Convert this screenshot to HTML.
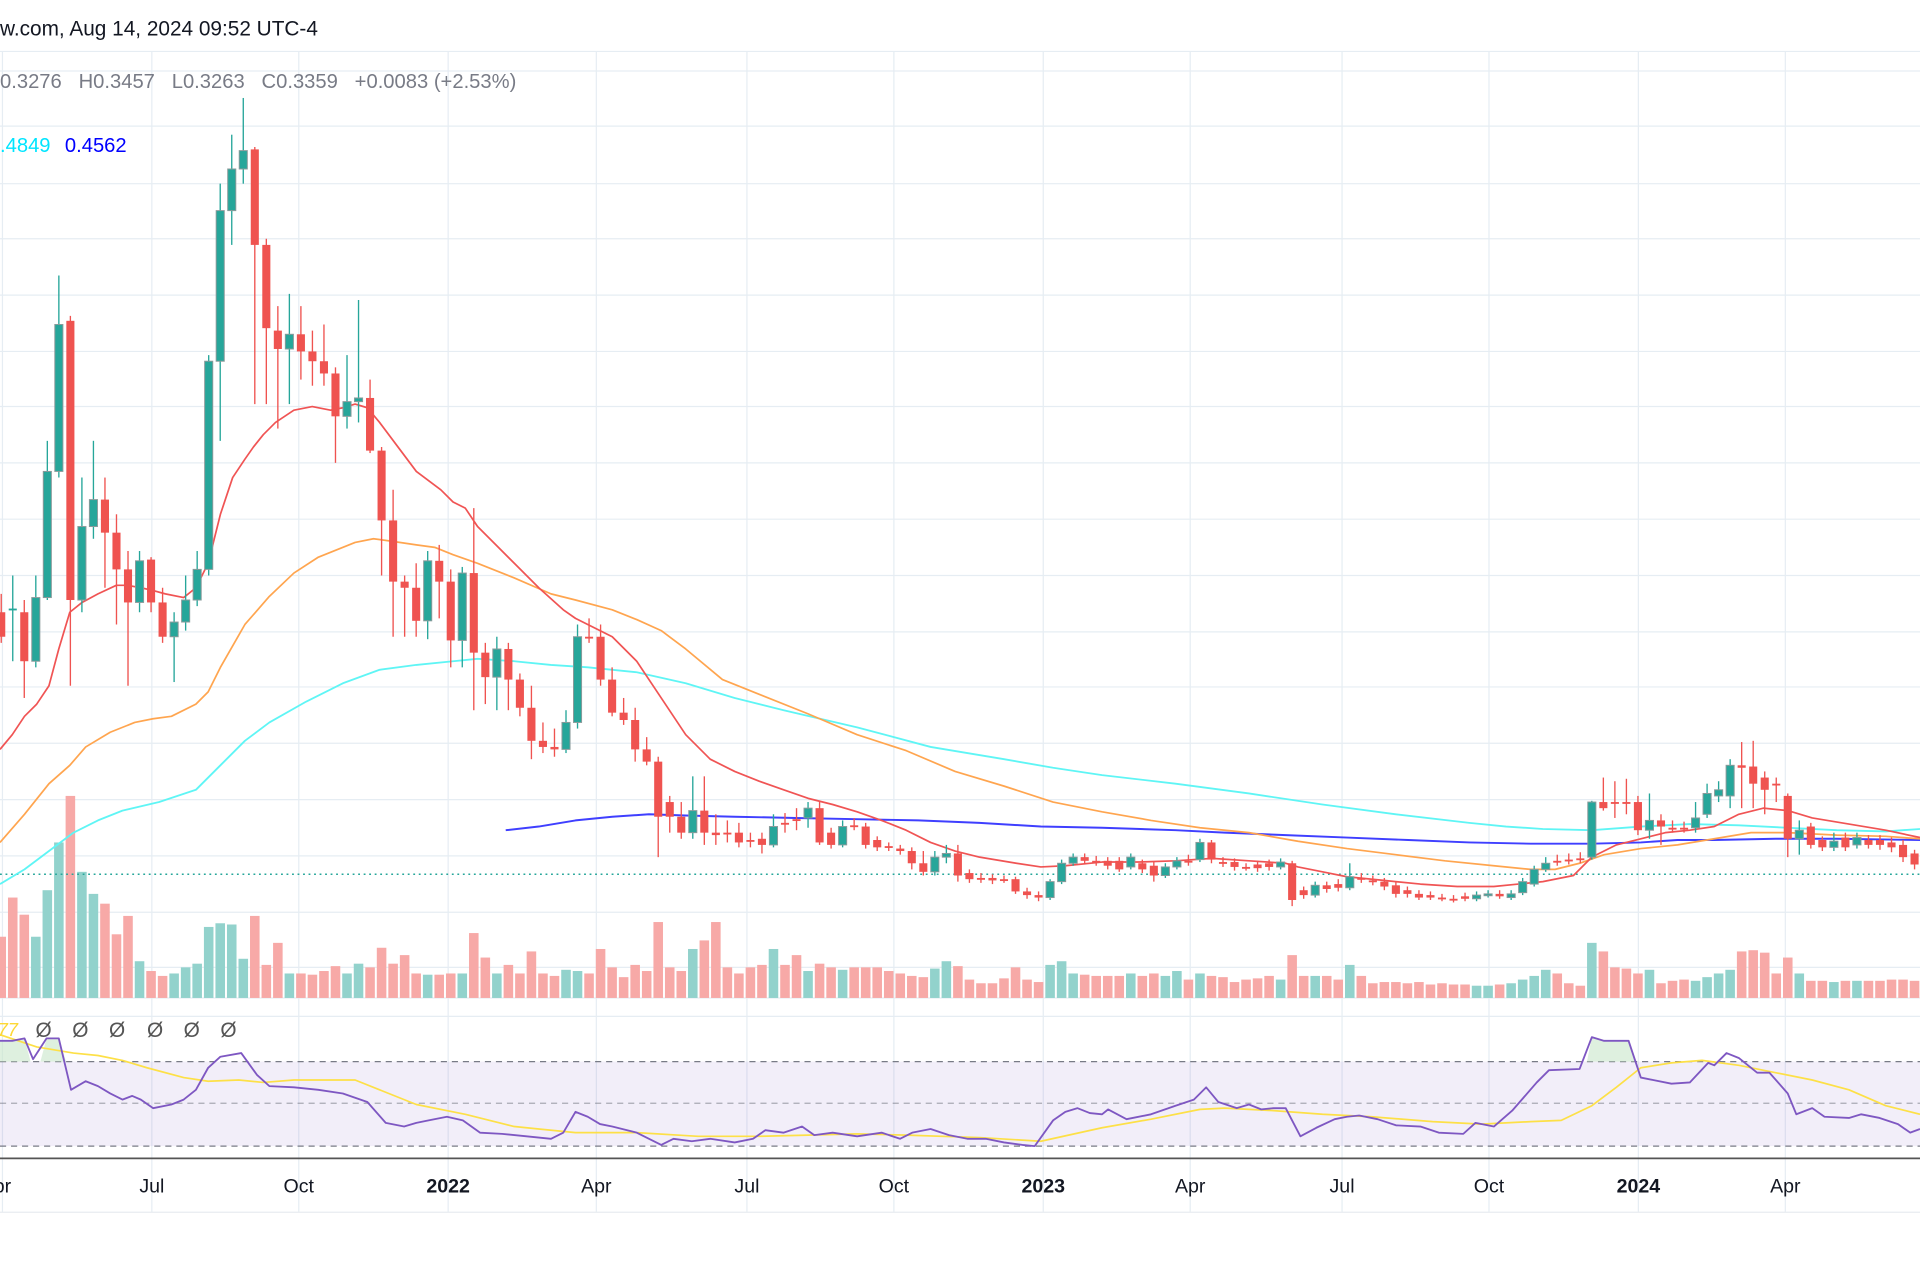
<!DOCTYPE html>
<html><head><meta charset="utf-8"><style>
html,body{margin:0;padding:0;background:#fff;width:1920px;height:1280px;overflow:hidden}
svg{display:block}
text{font-family:"Liberation Sans",sans-serif}
</style></head><body>
<svg id="s" width="1920" height="1280" viewBox="0 0 1568 1045.33" xmlns="http://www.w3.org/2000/svg">
<rect width="1568" height="1046" fill="#fff"/>
<g id="grid"></g>
<rect x="0" y="867" width="1568" height="69" fill="#7e57c2" fill-opacity="0.1"/>
<line x1="0" y1="867" x2="1568" y2="867" stroke="#787b86" stroke-dasharray="5,4" stroke-width="1"/>
<line x1="0" y1="901" x2="1568" y2="901" stroke="#787b86" stroke-opacity="0.6" stroke-dasharray="5,4" stroke-width="1"/>
<line x1="0" y1="936" x2="1568" y2="936" stroke="#787b86" stroke-dasharray="5,4" stroke-width="1"/>
<g id="vol"></g>
<line x1="0" y1="714" x2="1568" y2="714" stroke="#26a69a" stroke-dasharray="1.5,3" stroke-width="1.2"/>
<g id="ma"></g>
<g id="cdl"></g>
<g id="rsi"></g>
<line x1="0" y1="946" x2="1568" y2="946" stroke="#555" stroke-width="1.5"/>
<line x1="0" y1="990" x2="1568" y2="990" stroke="#e8ecf0" stroke-width="1"/>
<text x="0" y="29" font-size="17" fill="#131722">w.com, Aug 14, 2024 09:52 UTC-4</text>
<text x="0" y="72" font-size="16.5" fill="#787b86">0.3276 &#160;&#160;<tspan>H0.3457</tspan> &#160;&#160;L0.3263 &#160;&#160;C0.3359 &#160;&#160;+0.0083 (+2.53%)</text>
<text x="0" y="124" font-size="16.5" fill="#00e5ff">.4849</text>
<text x="53" y="124" font-size="16.5" fill="#0000ff">0.4562</text>
<text x="-2" y="846" font-size="15" fill="#fdd835" font-style="italic">77</text>
<g font-size="17" fill="#555">
<text x="29" y="847">Ø</text><text x="59" y="847">Ø</text><text x="89" y="847">Ø</text><text x="120" y="847">Ø</text><text x="150" y="847">Ø</text><text x="180" y="847">Ø</text>
</g>
<g font-size="16" fill="#131722" text-anchor="middle">
<text x="2" y="974">pr</text><text x="124" y="974">Jul</text><text x="244" y="974">Oct</text><text x="366" y="974" font-weight="bold">2022</text>
<text x="487" y="974">Apr</text><text x="610" y="974">Jul</text><text x="730" y="974">Oct</text><text x="852" y="974" font-weight="bold">2023</text>
<text x="972" y="974">Apr</text><text x="1096" y="974">Jul</text><text x="1216" y="974">Oct</text><text x="1338" y="974" font-weight="bold">2024</text><text x="1458" y="974">Apr</text>
</g>
</svg>
<script>
const NS="http://www.w3.org/2000/svg";
function el(p,t,a){const e=document.createElementNS(NS,t);for(const k in a)e.setAttribute(k,a[k]);document.getElementById(p).appendChild(e);return e;}
[42,58,103,150,195,241,287,332,378,424,470,516,561,607,653,699,745,790,815,830].forEach(y=>el("grid","line",{x1:0,x2:1568,y1:y,y2:y,stroke:"#e6edf3","stroke-width":1}));
[2,124,244,366,487,610,730,852,972,1096,1216,1338,1458].forEach(x=>el("grid","line",{x1:x,x2:x,y1:42,y2:990,stroke:"#e6edf3","stroke-width":1}));
const C=[[500,520,485,525],[497,497,470,540],[500,540,490,570],[540,488,470,545],[488,385,360,490],[385,265,225,390],[262,490,258,560],[490,430,390,500],[430,408,360,440],[408,435,390,480],[435,465,420,510],[465,492,450,560],[492,458,450,500],[457,492,455,500],[492,520,480,525],[520,508,500,557],[508,490,470,515],[490,465,450,495],[465,295,290,470],[295,172,150,360],[172,138,110,200],[138,123,80,150],[122,200,120,330],[200,268,195,330],[270,285,250,350],[285,273,240,330],[273,287,250,310],[287,295,270,315],[295,305,265,315],[305,340,300,378],[340,328,290,350],[328,325,245,345],[325,368,310,370],[368,425,365,470],[425,475,400,520],[475,480,470,520],[480,507,460,520],[507,458,450,522],[458,475,445,505],[475,523,465,545],[523,468,463,545],[468,533,415,580],[533,553,525,575],[553,530,520,580],[530,555,525,580],[555,578,550,585],[578,605,560,620],[605,610,590,615],[610,612,595,618],[612,590,580,615],[590,520,510,595],[520,521,505,525],[520,555,510,560],[555,582,545,585],[582,588,570,592],[588,612,578,622],[612,622,602,625],[622,667,618,700],[655,667,650,680],[667,680,655,685],[680,662,634,685],[662,680,634,690],[680,682,665,690],[680,681,670,688],[680,688,672,692],[686,687,680,692],[685,690,680,697],[690,675,665,692],[672,673,664,680],[669,670,660,678],[668,660,655,676],[660,688,655,690],[680,690,676,693],[690,675,670,692],[674,675,668,678],[675,690,672,693],[686,692,683,695],[691,692,688,695],[693,695,690,698],[695,705,692,710],[705,712,695,715],[712,700,695,715],[700,697,690,705],[697,715,690,720],[713,718,710,721],[717,718,713,721],[717,719,714,722],[718,719,715,721],[718,728,716,730],[728,731,725,734],[731,733,728,736],[733,720,718,735],[720,705,702,722],[705,700,697,707],[700,703,697,706],[703,704,699,707],[703,707,700,710],[703,710,700,712],[708,700,697,710],[705,710,702,713],[707,715,704,720],[715,708,705,717],[708,703,700,710],[703,704,698,707],[702,688,685,704],[688,702,686,705],[704,705,700,708],[704,708,701,711],[708,709,705,711],[706,709,703,712],[705,708,702,711],[708,704,701,710],[705,735,703,740],[727,731,724,734],[731,723,720,733],[723,726,720,729],[722,725,718,728],[725,716,705,727],[717,718,713,721],[719,720,715,723],[720,724,717,727],[723,730,720,733],[727,730,724,733],[730,733,727,735],[731,733,728,735],[733,734,730,736],[734,735,731,737],[732,734,729,736],[734,731,728,736],[731,730,727,733],[730,732,727,734],[733,730,727,735],[729,720,717,731],[722,710,707,724],[710,705,700,712],[703,704,698,707],[702,703,697,706],[701,702,696,705],[700,655,654,702],[655,660,635,662],[655,656,638,668],[655,656,636,665],[655,678,650,682],[678,670,648,685],[670,675,665,690],[676,677,670,680],[676,677,671,680],[676,668,655,680],[665,648,640,668],[650,645,638,655],[650,625,620,660],[625,627,606,660],[626,640,605,660],[635,645,630,665],[640,641,635,655],[650,685,648,700],[685,678,670,698],[675,690,672,693],[686,692,683,695],[692,687,680,695],[684,692,680,695],[690,684,680,693],[686,690,682,693],[686,690,682,694],[688,692,684,696],[690,700,686,704],[697,706,694,710]];
const V=[765,733,747,765,727,688,650,712,730,738,763,748,785,793,797,795,790,787,757,754,755,783,748,788,770,795,795,796,793,789,795,787,790,774,787,780,795,796,796,795,795,762,782,795,788,795,777,795,797,792,793,795,775,790,798,788,793,753,790,793,775,768,753,790,795,790,788,775,788,780,793,787,790,792,790,790,790,793,795,797,798,791,785,789,800,803,803,799,790,800,802,788,785,795,796,797,797,797,795,797,795,797,793,800,795,797,798,802,800,799,797,800,780,797,797,797,800,788,797,803,802,802,803,802,804,803,804,804,805,805,804,803,800,797,792,795,803,805,770,777,790,791,795,792,803,801,800,801,798,795,792,777,776,778,795,782,795,801,801,802,801,801,801,801,800,800,801];
const sp=9.413,w=6.6;
C.forEach((c,i)=>{const x=1+i*sp;let [o,cl,h,l]=c;const col=cl<o?"#26a69a":(cl>o?"#ef5350":"#26a69a");
 el("cdl","line",{x1:x,x2:x,y1:h,y2:l,stroke:col,"stroke-width":1.1});
 const t=Math.min(o,cl),b=Math.max(o,cl);
 el("cdl","rect",{x:x-w/2,y:t,width:w,height:Math.max(b-t,1.5),fill:col,stroke:cl<o?"#8a9a9a":"none","stroke-width":cl<o?0.8:0});
 const v=V[i]||800;el("vol","rect",{x:x-3.9,y:v,width:7.8,height:815-v,fill:cl<o?"#92d2cc":"#f7a9a7"});
});
function pl(p,pts,col,wd){el(p,"polyline",{points:pts.map(a=>a.join(",")).join(" "),fill:"none",stroke:col,"stroke-width":wd,"stroke-linejoin":"round"});}
pl("ma",[[413,678],[440,675],[470,670],[500,667],[530,665],[560,666],[600,667],[650,668],[700,669],[750,670],[800,672],[850,675],[900,676],[960,678],[1000,680],[1050,682],[1100,684],[1150,686],[1200,688],[1250,689],[1300,689],[1340,688],[1370,686],[1400,686],[1450,685],[1500,685],[1568,686]],"#3f3fff",1.6);
pl("ma",[[0,722],[20,710],[40,695],[60,680],[80,670],[100,662],[130,655],[160,645],[180,625],[200,605],[220,590],[250,573],[280,558],[310,547],[340,543],[370,540],[390,538],[420,540],[450,543],[480,545],[520,549],[560,558],[600,570],[640,580],[700,594],[760,610],[820,620],[860,627],[900,633],[960,640],[1020,648],[1080,657],[1140,665],[1200,672],[1230,675],[1260,677],[1300,678],[1340,675],[1380,673],[1420,674],[1460,676],[1500,678],[1540,679],[1568,677]],"#5ff5f5",1.5);
pl("ma",[[0,688],[20,665],[40,640],[57,625],[70,610],[90,598],[110,590],[125,587],[140,585],[160,575],[170,565],[180,545],[200,510],[220,487],[240,468],[260,455],[290,443],[305,440],[320,442],[340,445],[355,447],[370,453],[390,460],[420,472],[450,485],[470,490],[500,498],[520,506],[540,515],[560,530],[590,555],[620,567],[660,583],[700,600],[740,613],[780,630],[820,642],[860,655],[900,663],[940,670],[980,676],[1020,680],[1060,687],[1100,693],[1140,698],[1180,703],[1220,707],[1250,710],[1270,710],[1290,705],[1310,698],[1340,693],[1370,690],[1400,685],[1430,680],[1460,680],[1500,682],[1540,683],[1568,685]],"#ffa54f",1.4);
pl("ma",[[0,612],[10,600],[20,585],[30,575],[40,560],[48,530],[57,500],[67,492],[80,485],[95,478],[104,478],[115,480],[124,482],[135,485],[150,488],[160,480],[170,460],[180,420],[190,390],[200,375],[207,365],[215,355],[225,345],[240,335],[255,332],[270,335],[280,333],[290,330],[300,333],[310,345],[325,365],[340,385],[360,400],[370,410],[380,415],[390,430],[405,445],[420,460],[440,480],[460,498],[470,505],[480,510],[500,520],[520,540],[540,570],[560,600],[580,620],[600,630],[620,638],[640,645],[660,652],[680,657],[700,663],[720,670],[740,678],[760,688],[780,695],[800,700],[830,705],[850,708],[870,707],[900,704],[930,704],[960,703],[990,701],[1020,703],[1050,705],[1060,708],[1080,712],[1100,716],[1130,719],[1160,722],[1190,724],[1220,724],[1240,722],[1260,720],[1285,715],[1300,700],[1320,690],[1340,685],[1360,680],[1380,678],[1400,675],[1420,665],[1440,660],[1460,662],[1480,668],[1510,673],[1540,678],[1568,684]],"#f05454",1.4);
el("rsi","polygon",{points:"1296,867 1300,847 1310,850 1330,850 1336,867",fill:"#c8e6c9","fill-opacity":0.6});
el("rsi","polygon",{points:"0,867 0,850 10,850 20,848 25,867 33,867 38,848 48,848 54,867",fill:"#c8e6c9","fill-opacity":0.6});
pl("rsi",[[0,845],[30,855],[60,860],[80,862],[100,866],[120,872],[150,880],[170,883],[195,882],[215,884],[240,882],[270,882],[290,882],[310,890],[340,902],[380,910],[420,920],[440,922],[470,925],[520,925],[570,928],[620,928],[660,927],[700,926],[740,927],[800,929],[850,932],[900,921],[940,914],[980,906],[1000,905],[1040,907],[1080,910],[1120,912],[1170,916],[1210,918],[1250,916],[1275,915],[1300,903],[1320,888],[1340,872],[1365,868],[1390,866],[1420,870],[1450,876],[1480,882],[1510,890],[1540,903],[1568,910]],"#fde047",1.4);
pl("rsi",[[0,850],[10,850],[20,848],[27,865],[38,848],[48,848],[58,890],[70,883],[80,887],[90,893],[100,898],[108,895],[115,898],[125,905],[140,902],[150,898],[160,890],[170,872],[180,863],[197,860],[210,878],[220,887],[240,888],[260,890],[280,893],[300,900],[315,917],[330,920],[340,917],[350,915],[365,912],[378,915],[392,925],[410,926],[430,928],[450,930],[460,925],[470,908],[480,912],[490,918],[500,920],[520,925],[530,930],[540,935],[550,930],[565,932],[580,930],[600,933],[615,930],[625,923],[640,925],[655,920],[665,927],[680,925],[700,928],[720,925],[735,930],[745,925],[760,922],[775,927],[790,930],[805,930],[820,933],[835,935],[845,936],[860,915],[870,908],[880,905],[890,909],[900,910],[905,906],[920,914],[940,910],[960,903],[975,898],[985,888],[995,900],[1010,905],[1020,902],[1030,906],[1040,905],[1050,905],[1062,928],[1075,921],[1090,914],[1100,912],[1110,911],[1125,914],[1140,919],[1160,920],[1175,925],[1195,926],[1205,917],[1220,920],[1235,907],[1255,884],[1265,874],[1290,873],[1300,847],[1310,850],[1330,850],[1340,880],[1350,882],[1365,885],[1380,884],[1395,868],[1400,870],[1410,860],[1420,864],[1435,876],[1445,876],[1460,893],[1467,910],[1480,905],[1490,912],[1510,913],[1520,910],[1535,913],[1550,918],[1560,925],[1568,922]],"#7e57c2",1.5);
</script>
</body></html>
